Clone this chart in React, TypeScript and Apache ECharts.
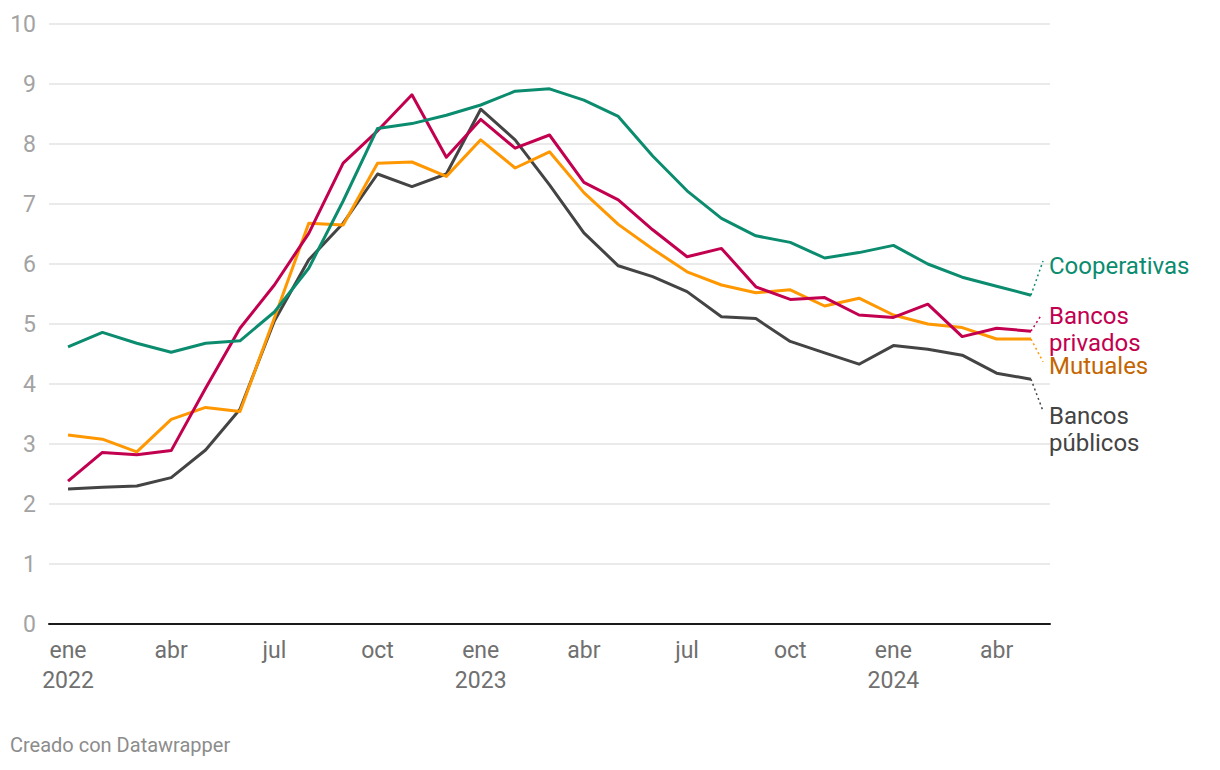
import React, { useEffect, useRef } from "react";
import * as echarts from "echarts";

const months = [
  "ene 2022", "feb 2022", "mar 2022", "abr 2022", "may 2022", "jun 2022",
  "jul 2022", "ago 2022", "sep 2022", "oct 2022", "nov 2022", "dic 2022",
  "ene 2023", "feb 2023", "mar 2023", "abr 2023", "may 2023", "jun 2023",
  "jul 2023", "ago 2023", "sep 2023", "oct 2023", "nov 2023", "dic 2023",
  "ene 2024", "feb 2024", "mar 2024", "abr 2024", "may 2024",
];

const tickIndexes = [0, 3, 6, 9, 12, 15, 18, 21, 24, 27];
const tickLabels = ["ene\n2022", "abr", "jul", "oct", "ene\n2023", "abr", "jul", "oct", "ene\n2024", "abr"];
const yTicks = [0, 1, 2, 3, 4, 5, 6, 7, 8, 9, 10];

const cooperativas = [4.62, 4.86, 4.68, 4.53, 4.68, 4.72, 5.2, 5.93, 7.05, 8.26, 8.34, 8.48, 8.65, 8.88, 8.92, 8.73, 8.46, 7.8, 7.22, 6.76, 6.47, 6.36, 6.1, 6.19, 6.31, 6.0, 5.78, 5.63, 5.48];
const bancosPrivados = [2.38, 2.86, 2.82, 2.89, 3.93, 4.93, 5.65, 6.51, 7.68, 8.22, 8.82, 7.78, 8.41, 7.93, 8.15, 7.36, 7.07, 6.57, 6.12, 6.26, 5.62, 5.41, 5.44, 5.15, 5.11, 5.33, 4.79, 4.93, 4.88];
const mutuales = [3.15, 3.08, 2.87, 3.41, 3.61, 3.54, 5.1, 6.68, 6.65, 7.68, 7.7, 7.46, 8.07, 7.6, 7.87, 7.19, 6.66, 6.25, 5.87, 5.65, 5.52, 5.57, 5.3, 5.43, 5.15, 5.0, 4.94, 4.75, 4.75];
const bancosPublicos = [2.25, 2.28, 2.3, 2.44, 2.9, 3.58, 5.05, 6.07, 6.68, 7.5, 7.29, 7.5, 8.58, 8.07, 7.32, 6.52, 5.97, 5.79, 5.54, 5.12, 5.09, 4.71, 4.52, 4.33, 4.64, 4.58, 4.48, 4.18, 4.08];

const seriesNames = ["Cooperativas", "Bancos\nprivados", "Mutuales", "Bancos\npúblicos"];

const FONT = "Roboto, 'Noto Sans', sans-serif";

export default function App() {
  const ref = useRef<HTMLDivElement>(null);

  useEffect(() => {
    if (!ref.current) return;
    const chart = echarts.init(ref.current, null, { renderer: "svg" });

    const last = months.length - 1;
    const toData = (arr: number[]) => arr.map((v, i) => [i, v]);

    const mk = (
      name: string,
      values: number[],
      lineColor: string,
      textColor: string,
      offset: [number, number],
      connectorEnd: [number, number],
      z: number
    ) => ({
      type: "line",
      name,
      data: toData(values),
      symbol: "none",
      z,
      lineStyle: { color: lineColor, width: 3, join: "round" },
      itemStyle: { color: lineColor },
      endLabel: {
        show: true,
        formatter: name,
        color: textColor,
        fontFamily: FONT,
        fontSize: 24,
        lineHeight: 27,
        align: "left",
        verticalAlign: "middle",
        distance: 0,
        offset,
      },
      labelLayout: { hideOverlap: false },
      markLine: {
        silent: true,
        symbol: "none",
        label: { show: false },
        lineStyle: { color: lineColor, type: [2, 3], width: 1.5 },
        data: [
          [
            { coord: [last, values[last]] },
            { coord: connectorEnd },
          ],
        ],
      },
    });

    chart.setOption({
      animation: false,
      backgroundColor: "#ffffff",
      textStyle: { fontFamily: FONT },
      grid: { left: 49, right: 170, top: 24, bottom: 146, containLabel: false },
      xAxis: {
        type: "value",
        min: -0.553,
        max: last + 0.553,
        axisLine: { show: true, lineStyle: { color: "#1a1a1a", width: 2 } },
        axisTick: { show: false },
        splitLine: { show: false },
        axisLabel: {
          customValues: tickIndexes,
          formatter: (v: number) => {
            const k = tickIndexes.indexOf(Math.round(v));
            return k >= 0 ? tickLabels[k] : "";
          },
          color: "#707070",
          fontSize: 23,
          lineHeight: 30,
          margin: 11,
          fontFamily: FONT,
        },
      },
      yAxis: {
        type: "value",
        min: 0,
        max: 10,
        interval: 1,
        axisLine: { show: false },
        axisTick: { show: false },
        splitLine: { show: true, lineStyle: { color: "#e3e3e3", width: 1.5 } },
        axisLabel: {
          formatter: (v: number) => (yTicks.indexOf(v) >= 0 ? String(v) : ""),
          color: "#a3a3a3",
          fontSize: 23,
          margin: 13,
          fontFamily: FONT,
        },
      },
      graphic: [
        {
          type: "text",
          left: 10,
          top: 735,
          style: {
            text: "Creado con Datawrapper",
            fill: "#8c8c8c",
            fontSize: 20,
            fontFamily: FONT,
          },
        },
      ],
      series: [
        mk(seriesNames[0], cooperativas, "#0b8c6f", "#0b8c6f", [18, -29], [28.35, 6.05], 4),
        mk(seriesNames[1], bancosPrivados, "#c2004f", "#c2004f", [18, -1.5], [28.3, 5.15], 3),
        mk(seriesNames[2], mutuales, "#ff9700", "#c46500", [18, 27], [28.35, 4.37], 2),
        mk(seriesNames[3], bancosPublicos, "#444444", "#444444", [18, 50.5], [28.35, 3.55], 1),
      ],
    });

    return () => chart.dispose();
  }, []);

  return (
    <div
      ref={ref}
      style={{ position: "fixed", left: 0, top: 0, width: 1220, height: 770, background: "#fff" }}
    />
  );
}
